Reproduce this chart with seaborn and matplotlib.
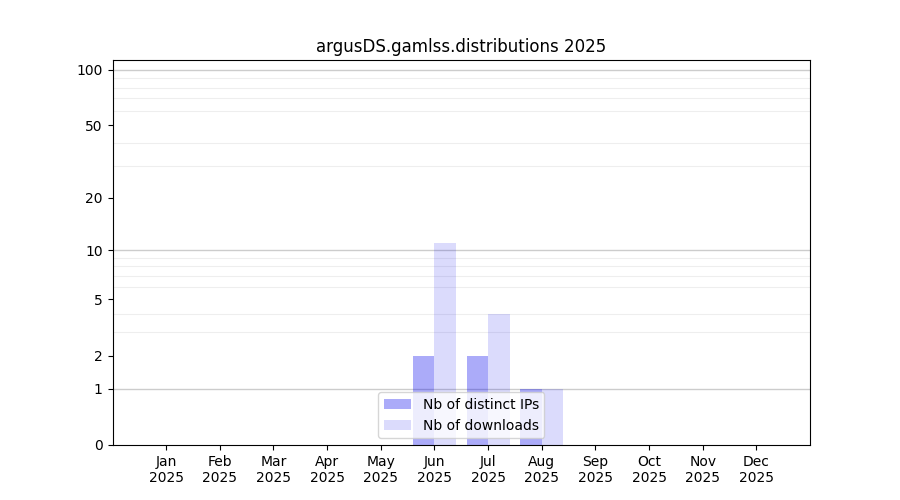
import numpy as np
import pandas as pd
import seaborn as sns
import matplotlib
matplotlib.use("Agg")
import matplotlib.pyplot as plt
from matplotlib.ticker import FixedLocator, NullFormatter

months = ["Jan", "Feb", "Mar", "Apr", "May", "Jun", "Jul", "Aug", "Sep", "Oct", "Nov", "Dec"]
year = "2025"
distinct_ips = [0, 0, 0, 0, 0, 2, 2, 1, 0, 0, 0, 0]
downloads = [0, 0, 0, 0, 0, 11, 4, 1, 0, 0, 0, 0]
series = ["Nb of distinct IPs", "Nb of downloads"]
ytick_vals = [0, 1, 2, 5, 10, 20, 50, 100]

labels = [f"{m}\n{year}" for m in months]
df = pd.DataFrame({
    "month": labels * 2,
    "series": [series[0]] * 12 + [series[1]] * 12,
    "value": distinct_ips + downloads,
})

fig, ax = plt.subplots(figsize=(9, 5), dpi=100)

ax.set_yscale("function", functions=(lambda v: np.log10(1 + np.clip(v, 0, None)),
                                     lambda v: 10 ** v - 1))

sns.barplot(data=df, x="month", y="value", hue="series", order=labels,
            hue_order=series, palette=["#0000ee", "#0000ee"], ax=ax,
            linewidth=0, legend=False, width=0.8, saturation=1)

alphas = [0.33, 0.14]
for cont, a in zip(ax.containers, alphas):
    for p in cont:
        p.set_alpha(a)

ax.set_ylim(0, 113)
ax.set_xlim(-1, 12)
ax.yaxis.set_major_locator(FixedLocator(ytick_vals))
ax.set_yticklabels([str(v) for v in ytick_vals])
minor = [2, 3, 4, 5, 6, 7, 8, 9, 20, 30, 40, 50, 60, 70, 80, 90]
ax.yaxis.set_minor_locator(FixedLocator(minor))
ax.yaxis.set_minor_formatter(NullFormatter())
ax.tick_params(axis="y", which="minor", length=0)
ax.grid(False)
ax.grid(True, axis="y", which="minor", color="#eeeeee", linewidth=0.8)
for v in [1, 10, 100]:
    ax.axhline(v, color="#cccccc", linewidth=1, zorder=0.5)
ax.set_axisbelow(True)

ax.set_xlabel("")
ax.set_ylabel("")
ax.set_title(f"argusDS.gamlss.distributions {year}")
ax.legend(handles=[ax.containers[0], ax.containers[1]], labels=series, loc="lower center")

plt.savefig("out.png", dpi=100)
